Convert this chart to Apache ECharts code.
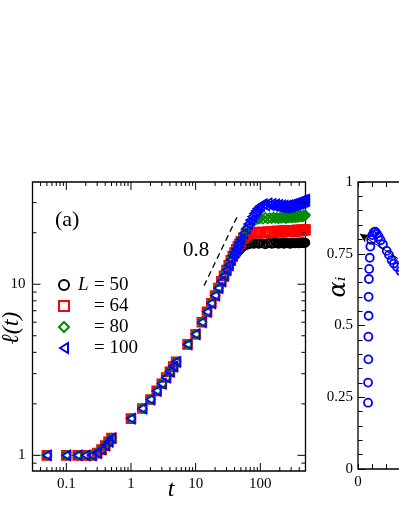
<!DOCTYPE html>
<html>
<head>
<meta charset="UTF-8">
<title>l(t) growth</title>
<style>
  html, body { margin: 0; padding: 0; background: #fff; }
  #chart { width: 399px; height: 516px; }
</style>
</head>
<body>
<div id="chart"></div>
<script src="https://cdn.jsdelivr.net/npm/echarts/dist/echarts.min.js"></script>
<script>
// panel (a): shared early growth, all L on top of each other
var tGrow = [0.05, 0.1, 0.15, 0.2, 0.25, 0.3, 0.35, 0.4, 0.45, 0.5,
             1, 1.5, 2, 2.5, 3, 3.5, 4, 4.5, 5, 7.5, 10,
             12.5, 15, 17.5, 20, 22.5, 25, 27.5, 30, 32.5];
var lGrow = [1, 1, 1, 1, 1.0, 1.03, 1.08, 1.14, 1.2, 1.26,
             1.64, 1.88, 2.12, 2.38, 2.62, 2.85, 3.08, 3.3, 3.52, 4.45, 5.1,
             6.0, 6.9, 7.75, 8.6, 9.5, 10.4, 11.2, 12.1, 12.9];

// late times, where the curves split and saturate
var tLate = [35, 37.5, 40, 42.5, 45, 47.5, 50, 55, 60, 65, 70, 75, 80, 85, 90, 95, 100,
             110, 120, 130, 140, 150, 160, 170, 180, 190, 200,
             210, 220, 230, 240, 250, 260, 270, 280, 290, 300,
             310, 320, 330, 340, 350, 360, 370, 380, 390, 400,
             410, 420, 430, 440, 450, 460, 470, 480, 490, 500];
var l50 = [13.6, 14.1, 14.6, 15.0, 15.4, 15.8, 16.1, 16.6, 16.9, 17.1, 17.2, 17.3, 17.2, 17.4, 17.3, 17.2, 17.4,
           17.3, 17.1, 17.4, 17.5, 17.2, 17.3, 17.6, 17.4, 17.2, 17.3,
           17.5, 17.4, 17.2, 17.3, 17.6, 17.5, 17.3, 17.4, 17.2, 17.3,
           17.5, 17.6, 17.4, 17.3, 17.5, 17.4, 17.6, 17.5, 17.3, 17.4,
           17.6, 17.5, 17.4, 17.6, 17.5, 17.4, 17.6, 17.5, 17.4, 17.5];
var l64 = [13.8, 14.6, 15.3, 16.0, 16.6, 17.2, 17.8, 18.7, 19.3, 19.7, 19.9, 20.0, 20.1, 19.9, 20.2, 20.0, 20.1,
           20.2, 19.9, 20.3, 20.1, 20.4, 20.0, 20.3, 20.5, 20.2, 20.4,
           20.1, 20.5, 20.3, 20.6, 20.2, 20.4, 20.6, 20.3, 20.5, 20.7,
           20.4, 20.6, 20.3, 20.5, 20.7, 20.5, 20.8, 20.6, 20.4, 20.7,
           20.5, 20.8, 20.6, 20.7, 20.9, 20.6, 20.8, 20.7, 20.9, 20.8];
var l80 = [13.9, 14.7, 15.4, 16.1, 16.9, 17.6, 18.3, 19.6, 20.8, 21.8, 22.5, 23.1, 23.5, 23.8, 24.0, 24.1, 24.3,
           24.0, 24.6, 24.1, 24.5, 24.2, 24.7, 24.3, 24.6, 24.1, 24.5,
           24.3, 24.8, 24.4, 24.7, 24.2, 24.6, 24.4, 24.9, 24.5, 24.7,
           24.4, 24.9, 24.6, 25.0, 24.5, 24.8, 24.6, 25.1, 24.7, 25.0,
           24.8, 25.2, 24.9, 25.1, 24.8, 25.3, 25.0, 25.2, 25.1, 25.4];
var l100 = [13.9, 14.7, 15.4, 16.1, 16.9, 17.6, 18.4, 19.8, 21.2, 22.5, 23.7, 24.9, 25.9, 26.8, 27.6, 28.2, 28.7,
            29.4, 28.9, 29.7, 29.0, 29.5, 28.7, 29.3, 28.5, 29.1, 28.3,
            28.9, 28.2, 28.8, 28.0, 28.7, 28.3, 28.9, 28.4, 29.0, 28.6,
            29.3, 28.8, 29.4, 29.0, 29.7, 29.2, 29.9, 29.5, 30.1, 29.7,
            30.4, 29.9, 30.6, 30.2, 30.8, 30.4, 30.9, 30.6, 31.2, 30.9];

// guide line of slope 0.8
var slopeT = [13.5, 44.5];
var slopeL = [9.8, 25.1];

// log-axis ticks
var xMajorTicks = [0.1, 1, 10, 100];
var xMinorTicks = [0.04, 0.05, 0.06, 0.07, 0.08, 0.09, 0.2, 0.3, 0.4, 0.5, 0.6, 0.7, 0.8, 0.9,
                   2, 3, 4, 5, 6, 7, 8, 9, 20, 30, 40, 50, 60, 70, 80, 90, 200, 300, 400];
var yMajorTicks = [1, 10];
var yMinorTicks = [0.9, 2, 3, 4, 5, 6, 7, 8, 9, 20, 30];

// panel (b), cut off at the right edge
var alphaX = [0.035, 0.035, 0.036, 0.036, 0.037, 0.037, 0.038, 0.039, 0.041, 0.043, 0.046, 0.05,
              0.055, 0.06, 0.066, 0.072, 0.079, 0.087, 0.1, 0.108, 0.117, 0.125, 0.136, 0.148];
var alphaY = [0.231, 0.301, 0.382, 0.461, 0.534, 0.600, 0.662, 0.697, 0.736, 0.775, 0.798, 0.815,
              0.824, 0.827, 0.82, 0.81, 0.797, 0.783, 0.76, 0.746, 0.728, 0.716, 0.704, 0.69];
var arrowFrom = [0.14, 0.733];
var arrowTo = [0.007, 0.819];

var serif = 'Liberation Serif';

function pairs(xs, ys) {
    return xs.map(function (x, i) { return [x, ys[i]]; });
}

function dots(name, symbol, size, color, ys, rotate) {
    return {
        name: name, type: 'scatter', xAxisIndex: 0, yAxisIndex: 0,
        symbol: symbol, symbolSize: size, symbolRotate: rotate || 0,
        data: pairs(tGrow.concat(tLate), lGrow.concat(ys)),
        itemStyle: { color: 'rgba(0,0,0,0)', borderColor: color, borderWidth: 1.6, opacity: 1 },
        silent: true, z: 3
    };
}

// draws ticks on both sides of panel (a), through the log scales
function tickRenderer(dim) {
    return function (params, api) {
        var cs = params.coordSys;
        var len = api.value(2) === 1 ? 8 : 4;
        var p = api.coord([api.value(0), api.value(1)]);
        var st = { stroke: '#000', lineWidth: 1 };
        var a, b;
        if (dim === 'x') {
            a = { x1: p[0], y1: cs.y + cs.height, x2: p[0], y2: cs.y + cs.height - len };
            b = { x1: p[0], y1: cs.y, x2: p[0], y2: cs.y + len };
        } else {
            a = { x1: cs.x, y1: p[1], x2: cs.x + len, y2: p[1] };
            b = { x1: cs.x + cs.width, y1: p[1], x2: cs.x + cs.width - len, y2: p[1] };
        }
        return { type: 'group', children: [
            { type: 'line', shape: a, style: st },
            { type: 'line', shape: b, style: st }
        ] };
    };
}

var xTickData = xMajorTicks.map(function (v) { return [v, 1, 1]; })
    .concat(xMinorTicks.map(function (v) { return [v, 1, 0]; }));
var yTickData = yMajorTicks.map(function (v) { return [1, v, 1]; })
    .concat(yMinorTicks.map(function (v) { return [1, v, 0]; }));

var legendText = {
    L50: '{l|L}{r|= 50}',
    L64: '{l| }{r|= 64}',
    L80: '{l| }{r|= 80}',
    L100: '{l| }{r|= 100}'
};

var labelStyle = { color: '#000', fontFamily: serif, fontSize: 15 };

var option = {
    animation: false,
    backgroundColor: '#fff',
    grid: [
        { left: 32.5, top: 182, width: 273, height: 289, show: true, borderColor: '#000', borderWidth: 1.3,
          outerBoundsMode: 'none', containLabel: false },
        { left: 358, top: 182, width: 287, height: 287, show: true, borderColor: '#000', borderWidth: 1.3,
          outerBoundsMode: 'none', containLabel: false }
    ],
    legend: {
        data: ['L50', 'L64', 'L80', { name: 'L100', icon: 'path://M0,5L8,0L8,10Z' }],
        orient: 'vertical', left: 53, top: 270, padding: 5,
        itemWidth: 10, itemHeight: 10, itemGap: 1,
        formatter: function (n) { return legendText[n]; },
        textStyle: {
            color: '#000', fontFamily: serif, fontSize: 19, lineHeight: 20,
            rich: {
                l: { width: 16, padding: [0, 0, 0, 4], fontStyle: 'italic', fontFamily: serif, fontSize: 19, lineHeight: 20, color: '#000' },
                r: { fontFamily: serif, fontSize: 19, lineHeight: 20, color: '#000' }
            }
        },
        selectedMode: false
    },
    xAxis: [
        { type: 'log', logBase: 10, gridIndex: 0, min: 0.03, max: 500,
          axisLine: { show: false }, axisTick: { show: false }, splitLine: { show: false },
          axisLabel: Object.assign({ margin: 6, showMinLabel: false, showMaxLabel: false }, labelStyle) },
        { type: 'value', gridIndex: 1, min: 0, max: 1, interval: 0.25,
          axisLine: { show: false }, splitLine: { show: false },
          axisTick: { inside: true, length: 5, lineStyle: { color: '#000', width: 1 } },
          minorTick: { show: true, splitNumber: 5, length: 5, lineStyle: { color: '#000', width: 1 } },
          axisLabel: Object.assign({ margin: 6 }, labelStyle) },
        { type: 'value', gridIndex: 1, position: 'top', min: 0, max: 1, interval: 0.25,
          axisLine: { show: false }, splitLine: { show: false }, axisLabel: { show: false },
          axisTick: { inside: true, length: 5, lineStyle: { color: '#000', width: 1 } },
          minorTick: { show: true, splitNumber: 5, length: 5, lineStyle: { color: '#000', width: 1 } } }
    ],
    yAxis: [
        { type: 'log', logBase: 10, gridIndex: 0, min: 0.81, max: 39.6,
          axisLine: { show: false }, axisTick: { show: false }, splitLine: { show: false },
          axisLabel: Object.assign({ margin: 7, showMinLabel: false, showMaxLabel: false }, labelStyle) },
        { type: 'value', gridIndex: 1, min: 0, max: 1, interval: 0.25,
          axisLine: { show: false }, splitLine: { show: false },
          axisTick: { inside: true, length: 7, lineStyle: { color: '#000', width: 1 } },
          minorTick: { show: true, splitNumber: 5, length: 4.5, lineStyle: { color: '#000', width: 1 } },
          axisLabel: Object.assign({ margin: 5 }, labelStyle) }
    ],
    series: [
        { type: 'custom', xAxisIndex: 0, yAxisIndex: 0, renderItem: tickRenderer('x'),
          data: xTickData, silent: true, clip: false, z: 5 },
        { type: 'custom', xAxisIndex: 0, yAxisIndex: 0, renderItem: tickRenderer('y'),
          data: yTickData, silent: true, clip: false, z: 5 },
        { type: 'line', xAxisIndex: 0, yAxisIndex: 0, data: pairs(slopeT, slopeL),
          symbol: 'none', silent: true, z: 2,
          lineStyle: { color: '#000', width: 1.3, type: [6, 4] } },
        dots('L50', 'circle', 8, '#000000', l50),
        dots('L64', 'rect', 9, '#ff0000', l64),
        dots('L80', 'diamond', 9, '#008a00', l80),
        dots('L100', 'triangle', [10, 8], '#0000ff', l100, 90),
        { type: 'scatter', xAxisIndex: 1, yAxisIndex: 1, data: pairs(alphaX, alphaY),
          symbol: 'circle', symbolSize: 8, silent: true,
          itemStyle: { color: 'rgba(0,0,0,0)', borderColor: '#0000ff', borderWidth: 1.8, opacity: 1 },
          markLine: {
              silent: true, symbol: ['none', 'arrow'], symbolSize: [7, 9],
              label: { show: false },
              lineStyle: { color: '#000', type: 'solid', width: 1 },
              data: [[{ coord: arrowFrom }, { coord: arrowTo }]]
          } }
    ],
    graphic: { elements: [
        { type: 'text', x: 55, y: 220, silent: true,
          style: { text: '(a)', font: '22px "Liberation Serif"', fill: '#000',
                   align: 'left', verticalAlign: 'middle', textAlign: 'left', textVerticalAlign: 'middle' } },
        { type: 'text', x: 196, y: 250, silent: true,
          style: { text: '0.8', font: '21px "Liberation Serif"', fill: '#000',
                   align: 'center', verticalAlign: 'middle', textAlign: 'center', textVerticalAlign: 'middle' } },
        { type: 'text', x: 12, y: 328, rotation: Math.PI / 2, silent: true,
          style: { text: '\u2113(t)', font: 'italic 24px "Liberation Serif"', fill: '#000',
                   align: 'center', verticalAlign: 'middle', textAlign: 'center', textVerticalAlign: 'middle' } },
        { type: 'text', x: 171, y: 490, silent: true,
          style: { text: 't', font: 'italic 24px "Liberation Serif"', fill: '#000',
                   align: 'center', verticalAlign: 'middle', textAlign: 'center', textVerticalAlign: 'middle' } },
        { type: 'text', x: 339, y: 287, rotation: Math.PI / 2, silent: true,
          style: { text: '\u03b1\u1d62', font: 'italic 24px "DejaVu Serif"', fill: '#000',
                   align: 'center', verticalAlign: 'middle', textAlign: 'center', textVerticalAlign: 'middle' } }
    ] }
};

var chart = echarts.init(document.getElementById('chart'));
chart.setOption(option);
</script>
</body>
</html>
